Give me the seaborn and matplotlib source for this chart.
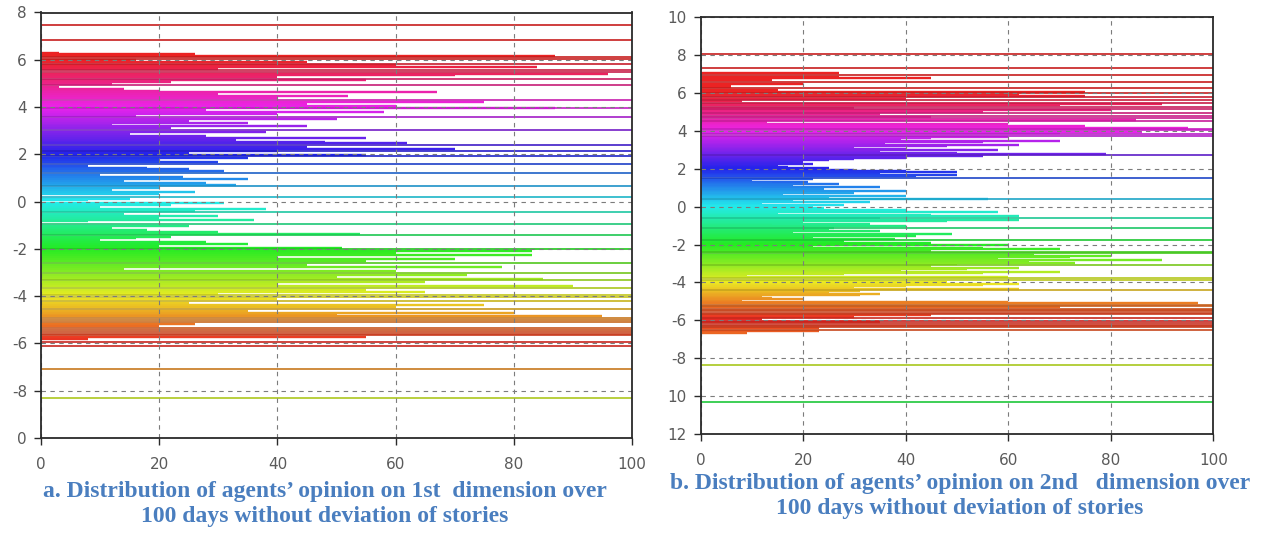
import colorsys
import numpy as np
import pandas as pd
import matplotlib
matplotlib.use("Agg")
import matplotlib.pyplot as plt
import seaborn as sns

# ---------------- data ----------------
# Panel a: each agent's opinion (1st dimension) and the day its line ends
a_opinion = [7.47, 6.84, 6.30, 6.24, 6.17, 6.10, 6.04, 5.97, 5.90, 5.83, 5.76, 5.69, 5.62, 5.55,
             5.48, 5.41, 5.34, 5.27, 5.20, 5.13, 5.06, 4.99, 4.94, 4.86, 4.78, 4.70, 4.62, 4.54,
             4.46, 4.38, 4.30, 4.22, 4.14, 4.06, 3.98, 3.95, 3.88, 3.80, 3.72, 3.64, 3.57, 3.50,
             3.42, 3.34, 3.26, 3.18, 3.10, 3.02, 2.94, 2.86, 2.78, 2.70, 2.62, 2.54, 2.46, 2.40,
             2.32, 2.24, 2.16, 2.12, 2.05, 1.98, 1.91, 1.84, 1.76, 1.68, 1.60, 1.52, 1.44, 1.36,
             1.28, 1.20, 1.12, 1.04, 0.96, 0.88, 0.80, 0.72, 0.64, 0.56, 0.48, 0.40, 0.32, 0.21,
             0.13, 0.05, -0.05, -0.13, -0.21, -0.30, -0.38, -0.44, -0.52, -0.60, -0.68, -0.76,
             -0.84, -0.94, -1.02, -1.10, -1.20, -1.28, -1.36, -1.40, -1.48, -1.56, -1.64, -1.72,
             -1.80, -1.88, -1.96, -2.02, -2.11, -2.18, -2.26, -2.34, -2.42, -2.50, -2.60, -2.68,
             -2.76, -2.84, -2.92, -3.02, -3.10, -3.18, -3.26, -3.31, -3.40, -3.48, -3.56, -3.66,
             -3.74, -3.82, -3.90, -3.97, -4.04, -4.12, -4.22, -4.30, -4.38, -4.46, -4.55, -4.62,
             -4.70, -4.78, -4.86, -4.94, -5.02, -5.10, -5.18, -5.26, -5.34, -5.42, -5.50, -5.58,
             -5.66, -5.74, -5.82, -5.92, -6.10, -7.07, -8.31]
a_end_day = [100, 100, 3, 26, 87, 100, 100, 16, 45, 100, 60, 84, 30, 100,
             100, 96, 70, 40, 100, 55, 22, 12, 100, 3, 14, 20, 67, 30,
             52, 40, 100, 75, 45, 60, 87, 100, 28, 58, 40, 16, 100, 50,
             25, 35, 12, 45, 22, 100, 38, 15, 28, 55, 33, 48, 62, 100,
             45, 70, 40, 100, 25, 55, 100, 35, 20, 30, 100, 8, 18, 25,
             31, 100, 10, 24, 35, 14, 28, 33, 100, 20, 12, 26, 20, 100,
             15, 8, 31, 22, 10, 38, 26, 100, 14, 30, 20, 36,
             8, 100, 25, 12, 18, 30, 54, 100, 22, 16, 10, 28,
             35, 20, 51, 100, 83, 60, 83, 40, 70, 55, 100, 45,
             78, 14, 60, 100, 72, 50, 85, 100, 65, 40, 90, 100,
             55, 65, 30, 100, 100, 40, 100, 25, 75, 60, 100, 35,
             80, 50, 95, 100, 100, 100, 26, 20, 100, 100, 100, 100,
             100, 55, 8, 100, 100, 100, 100]

# Panel b: each agent's opinion (2nd dimension) and the day its line ends
b_opinion = [8.05, 7.31, 7.04, 6.95, 6.86, 6.78, 6.69, 6.60, 6.50, 6.42, 6.34, 6.25, 6.16, 6.08,
             5.99, 5.92, 5.85, 5.78, 5.71, 5.64, 5.57, 5.50, 5.43, 5.36, 5.29, 5.22, 5.15, 5.08,
             5.01, 4.94, 4.87, 4.80, 4.73, 4.66, 4.59, 4.52, 4.45, 4.38, 4.31, 4.24, 4.17, 4.10,
             4.03, 3.96, 3.89, 3.82, 3.75, 3.68, 3.61, 3.54, 3.47, 3.40, 3.33, 3.26, 3.19, 3.12,
             3.05, 2.98, 2.91, 2.84, 2.77, 2.73, 2.66, 2.59, 2.52, 2.45, 2.38, 2.31, 2.24, 2.17,
             2.10, 2.03, 1.96, 1.89, 1.82, 1.75, 1.68, 1.61, 1.54, 1.47, 1.40, 1.33, 1.26, 1.19,
             1.12, 1.05, 0.98, 0.91, 0.84, 0.77, 0.70, 0.63, 0.56, 0.49, 0.42, 0.39, 0.32, 0.25,
             0.18, 0.11, 0.04, -0.08, -0.15, -0.22, -0.29, -0.36, -0.43, -0.50, -0.57, -0.61,
             -0.68, -0.75, -0.82, -0.89, -0.96, -1.03, -1.10, -1.14, -1.21, -1.28, -1.35, -1.42,
             -1.49, -1.56, -1.63, -1.70, -1.76, -1.83, -1.90, -1.97, -2.04, -2.11, -2.18, -2.25,
             -2.32, -2.41, -2.46, -2.53, -2.60, -2.67, -2.74, -2.81, -2.88, -2.95, -3.02, -3.08,
             -3.15, -3.22, -3.29, -3.36, -3.43, -3.50, -3.57, -3.64, -3.71, -3.78, -3.85, -3.92,
             -3.99, -4.06, -4.13, -4.20, -4.27, -4.34, -4.40, -4.47, -4.54, -4.61, -4.68, -4.75,
             -4.82, -4.89, -4.96, -5.03, -5.10, -5.17, -5.24, -5.31, -5.38, -5.45, -5.52, -5.59,
             -5.66, -5.73, -5.80, -5.87, -5.94, -6.01, -6.08, -6.15, -6.22, -6.29, -6.36, -6.43,
             -6.50, -6.57, -6.67, -8.36, -10.33]
b_end_day = [100, 100, 27, 100, 27, 45, 14, 100, 20, 6, 6, 100, 15, 75,
             100, 62, 75, 100, 40, 100, 8, 100, 90, 70, 100, 30, 100, 80,
             55, 100, 35, 100, 45, 100, 85, 100, 13, 60, 50, 75, 95, 100,
             100, 86, 70, 100, 100, 60, 45, 39, 70, 55, 36, 62, 48, 30,
             40, 58, 35, 50, 79, 100, 55, 40, 30, 25, 20, 18, 22, 15,
             17, 25, 30, 40, 50, 35, 50, 42, 100, 22, 10, 21, 14, 27,
             18, 35, 12, 24, 40, 20, 30, 16, 40, 25, 56, 100, 18, 33,
             12, 28, 22, 24, 40, 30, 58, 15, 45, 62, 35, 100,
             62, 48, 20, 33, 14, 40, 26, 100, 25, 35, 18, 49,
             30, 42, 22, 38, 100, 28, 45, 35, 60, 22, 55, 70,
             45, 100, 100, 65, 80, 72, 58, 90, 64, 73, 50, 100,
             45, 62, 52, 39, 70, 55, 28, 9, 60, 100, 100, 35,
             48, 62, 55, 40, 30, 62, 100, 31, 25, 35, 31, 12,
             14, 20, 8, 60, 97, 100, 100, 70, 100, 100, 100, 100,
             100, 45, 30, 100, 12, 100, 35, 100, 100, 100, 100, 23,
             100, 23, 9, 100, 100]

x_ticks = [0, 20, 40, 60, 80, 100]
a_y_ticks = [-10, -8, -6, -4, -2, 0, 2, 4, 6, 8]
a_y_labels = ["0", "-8", "-6", "-4", "-2", "0", "2", "4", "6", "8"]
b_y_ticks = [-12, -10, -8, -6, -4, -2, 0, 2, 4, 6, 8, 10]
b_y_labels = ["12", "10", "-8", "-6", "-4", "-2", "0", "2", "4", "6", "8", "10"]

caption_a = "a. Distribution of agents\u2019 opinion on 1st  dimension over\n100 days without deviation of stories"
caption_b = "b. Distribution of agents\u2019 opinion on 2nd   dimension over\n100 days without deviation of stories"


# ---------------- styling helpers ----------------
def opinion_color(y, v=0.92):
    if y > 6:
        h = 0.0
    elif y >= -6:
        h = ((y - 6) * 30) % 360
    else:
        h = ((-6 - y) * 30) % 360
    return colorsys.hsv_to_rgb(h / 360.0, 0.85, v)


def long_frame(opinions, ends):
    rows = []
    for i, (y, e) in enumerate(zip(opinions, ends)):
        rows.append({"agent": i, "day": 0, "opinion": y, "end": e})
        rows.append({"agent": i, "day": e, "opinion": y, "end": e})
    return pd.DataFrame(rows)


sns.set_style("white")
plt.rcParams["font.family"] = ["DejaVu Sans"]

fig = plt.figure(figsize=(12.67, 5.35), dpi=100)
ax_a = fig.add_axes([41 / 1267, 97 / 535, 591 / 1267, 425.5 / 535])
ax_b = fig.add_axes([700.7 / 1267, 101 / 535, 512.6 / 1267, 416.7 / 535])


def draw_panel(ax, opinions, ends, ylim, yticks, ylabels):
    df = long_frame(opinions, ends)
    short = df[df["end"] < 100]
    full = df[df["end"] >= 100]
    pal_short = {a: opinion_color(y) for a, y in zip(short["agent"], short["opinion"])}
    pal_full = {a: opinion_color(y, v=0.78) for a, y in zip(full["agent"], full["opinion"])}
    sns.lineplot(data=short, x="day", y="opinion", units="agent", estimator=None,
                 hue="agent", palette=pal_short, legend=False, linewidth=1.7,
                 solid_capstyle="butt", ax=ax)
    sns.lineplot(data=full, x="day", y="opinion", units="agent", estimator=None,
                 hue="agent", palette=pal_full, legend=False, linewidth=1.2,
                 solid_capstyle="butt", ax=ax)
    ax.set_xlim(0, 100)
    ax.set_ylim(*ylim)
    ax.set_xticks(x_ticks)
    ax.set_xticklabels([str(t) for t in x_ticks])
    ax.set_yticks(yticks)
    ax.set_yticklabels(ylabels)
    ax.set_xlabel("")
    ax.set_ylabel("")
    ax.set_axisbelow(False)
    ax.grid(True, linestyle=(0, (4, 4)), color="#7c7c7c", linewidth=0.8)
    for s in ax.spines.values():
        s.set_color("#2a2a2a")
        s.set_linewidth(1.3)
        s.set_zorder(5)
    ax.tick_params(axis="both", which="major", direction="out", length=5, width=1,
                   color="#2a2a2a", labelsize=11, labelcolor="#5a5a5a", pad=5,
                   bottom=True, left=True)
    ax.tick_params(axis="x", pad=9)


draw_panel(ax_a, a_opinion, a_end_day, (-10, 8), a_y_ticks, a_y_labels)
draw_panel(ax_b, b_opinion, b_end_day, (-12, 10), b_y_ticks, b_y_labels)

cap_kw = dict(ha="center", va="top", fontsize=17, fontweight="bold",
              family="Liberation Serif", color="#4a7ebf", linespacing=1.28)
fig.text(325 / 1267, 1 - 481 / 535, caption_a, **cap_kw)
fig.text(960 / 1267, 1 - 473 / 535, caption_b, **cap_kw)

fig.savefig("out.png", dpi=100, facecolor="white")
